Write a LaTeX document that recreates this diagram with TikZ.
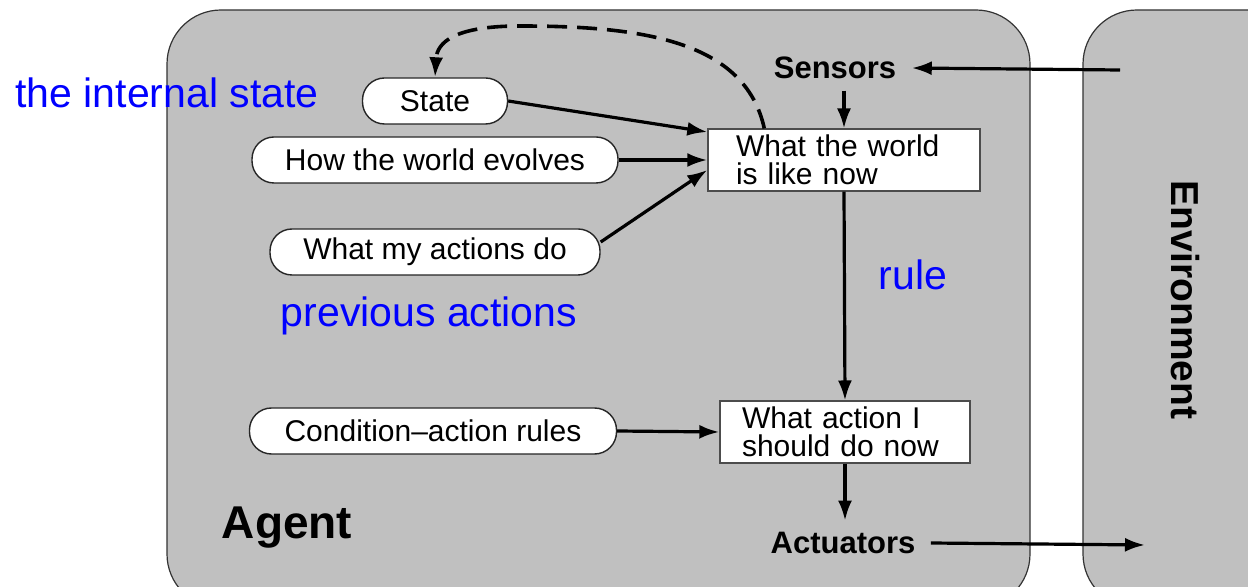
\documentclass[tikz,border=0pt]{standalone}
\usepackage{fontspec}
\setmainfont{Liberation Sans}
\usetikzlibrary{arrows.meta}
\definecolor{agentgray}{RGB}{192,192,192}
\definecolor{noteblue}{RGB}{0,0,255}
\begin{document}
\begin{tikzpicture}[x=0.5pt,y=-0.5pt,line width=1.6pt,>={Latex[length=10pt,width=7pt]}]
        \tikzstyle{panel}=[draw=black!80,line width=0.6pt,fill=agentgray,rounded corners=27pt]
        \tikzstyle{model}=[draw=black!85,line width=0.7pt,fill=white,rounded corners=11pt,minimum height=23pt,inner sep=0pt,font=\fontsize{15}{15}\selectfont]
        \tikzstyle{stage}=[draw=black!70,line width=0.7pt,fill=white,align=left,font=\fontsize{15}{13.8}\selectfont,inner ysep=3pt]
        \tikzstyle{port}=[font=\bfseries\fontsize{15.5}{16}\selectfont,inner xsep=7pt,inner ysep=5pt]
        \tikzstyle{note}=[text=noteblue,font=\fontsize{20.5}{21}\selectfont,inner sep=0pt]
        \tikzstyle{flow}=[draw,->]
        \useasboundingbox (0,0) rectangle (1248,587);
        \clip (0,0) rectangle (1248,587);
       \begin{scope}
         \draw[panel] (167,10) rectangle (1030,608);
         \draw[panel] (1083,10) rectangle (1320,608);
         \node [model,minimum width=72.5pt] (state) at (435,101) {State};
         \node [model,minimum width=183pt] (evolves) at (435,160) {How the world evolves};
         \node [model,minimum width=165pt] (actions) at (435,252) {What my actions do};
         \node [model,minimum width=183.5pt] (rules) at (433,431) {Condition--action rules};
         \node [stage,inner xsep=14pt,text width=108pt] (world) at (844,160) {What the world\\is like now};
         \node [stage,inner xsep=11pt,text width=103pt] (decide) at (845,432) {What action I\\should do now};
         \node [port] (sensors) at (835,68) {Sensors};
         \node [port] (actuators) at (843,543) {Actuators};
         \node [font=\bfseries\fontsize{23}{24}\selectfont] (agent) at (287,528) {Agent};
         \node [font=\bfseries\fontsize{19.5}{20}\selectfont,rotate=-90] (env) at (1185,300) {Environment};
         \node [note] (internal) at (167,93) {the internal state};
         \node [note] (previous) at (429,316) {previous actions};
         \node [note] (rule) at (913,275) {rule};
         \coordinate (percept) at (1120,70);
         \coordinate (effect) at (1145,545);
         \path[flow] (state.east) -- ([yshift=14pt]world.west);
         \path[flow] (evolves.east) -- (world.west);
         \path[flow] ([yshift=5pt]actions.east) -- ([yshift=-5pt]world.west);
         \path[flow] (percept) -- (sensors.east);
         \path[flow] (sensors.south -| world.north) -- (world.north);
         \path[flow] (world.south) -- (decide.north);
         \path[flow] (rules.east) -- (decide.west);
         \path[flow] (decide.south) -- (actuators.north -| decide.south);
         \path[flow] (actuators.east) -- (effect);
         \path[flow,dashed,line width=1.8pt,dash pattern=on 10pt off 5pt] ([xshift=28.5pt]world.north west) .. controls (745,40) and (640,26) .. (520,26) .. controls (455,26) and (437,42) .. (state.north);
        \end{scope}
      \end{tikzpicture}
\end{document}
